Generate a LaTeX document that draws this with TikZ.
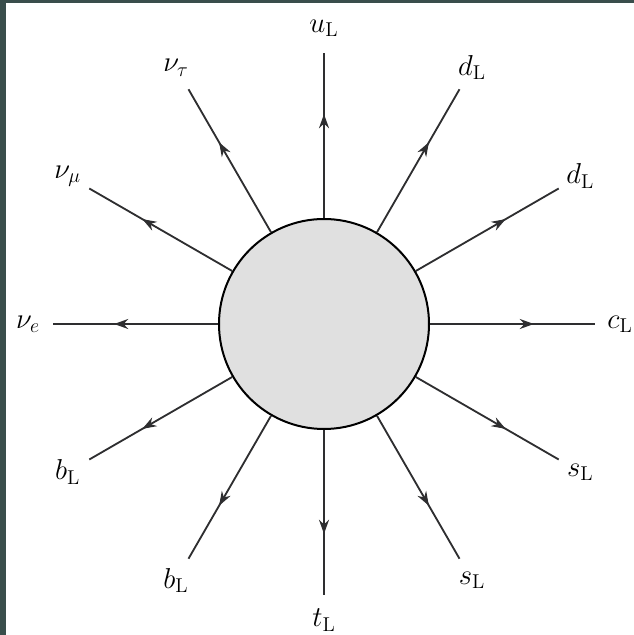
\documentclass[tikz,border=0pt]{standalone}
\usetikzlibrary{arrows.meta,decorations.markings,calc}
\definecolor{edge}{HTML}{3A4E4C}
\definecolor{blobgray}{HTML}{E0E0E0}
\definecolor{linegray}{HTML}{2E2E30}
\tikzset{
  leg/.style={draw=linegray, line width=1.1pt,
    decoration={markings, mark=at position 0.63 with {\arrow{Stealth[length=8.5pt,width=6pt]}}},
    postaction={decorate}},
  lbl/.style={font=\LARGE, inner sep=0pt}
}
\begin{document}
\begin{tikzpicture}[x=0.6pt,y=0.6pt]
\useasboundingbox (0,0) rectangle (634,635);
\fill[edge] (0,0) rectangle (6,635);
\fill[edge] (0,632) rectangle (634,635);
\node[draw=black, fill=blobgray, circle, line width=1.2pt, minimum size=210*0.6pt, inner sep=0pt] (blob) at (324,311) {};
\foreach \a/\t [count=\i] in {90/{$u_{\mathrm{L}}$}, 60/{$d_{\mathrm{L}}$}, 30/{$d_{\mathrm{L}}$}, 0/{$c_{\mathrm{L}}$},
  -30/{$s_{\mathrm{L}}$}, -60/{$s_{\mathrm{L}}$}, -90/{$t_{\mathrm{L}}$}, -120/{$b_{\mathrm{L}}$},
  -150/{$b_{\mathrm{L}}$}, 180/{$\nu_e$}, 150/{$\nu_\mu$}, 120/{$\nu_\tau$}} {
  \coordinate (end\i) at ($(324,311)+(\a:271)$);
  \node[lbl] (lab\i) at ($(324,311)+(\a:296)$) {\t};
  \draw[leg] (blob.\a) -- (end\i);
}
\end{tikzpicture}
\end{document}
